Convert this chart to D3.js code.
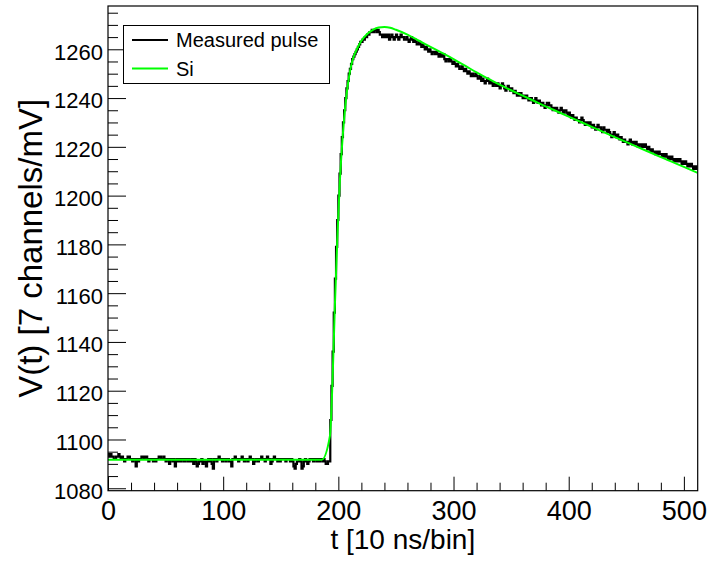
<!DOCTYPE html>
<html><head><meta charset="utf-8">
<script src="https://cdn.jsdelivr.net/npm/d3@7"></script>
<style>
body{margin:0;background:#fff}
svg{display:block}
text{font-family:"Liberation Sans",Arial,Helvetica,sans-serif;fill:#000}
</style>
</head><body>
<svg id="chart" width="709" height="562"></svg>
<script>
// Measured pulse: one value per 10 ns bin (bins 0..511)
const baselineBins = [
1094,1093,1094,1093,1093,1092,1092,1093,1093,1094,1093,1092,1093,1092,1091,1092,
1092,1093,1093,1092,1092,1091,1092,1092,1089,1092,1091,1092,1092,1093,1093,1092,
1093,1093,1092,1091,1092,1092,1092,1091,1092,1091,1092,1092,1093,1093,1092,1092,
1093,1092,1091,1092,1092,1090,1092,1092,1091,1092,1089,1091,1092,1091,1092,1091,
1092,1092,1091,1092,1092,1091,1092,1091,1091,1092,1090,1092,1091,1089,1090,1091,
1091,1092,1090,1091,1091,1089,1091,1092,1091,1092,1090,1088,1092,1092,1091,1092,
1093,1092,1092,1091,1092,1092,1091,1092,1092,1091,1091,1089,1092,1092,1093,1092,
1092,1091,1092,1092,1093,1092,1091,1092,1092,1091,1092,1093,1092,1092,1090,1091,
1092,1092,1091,1092,1092,1093,1092,1092,1091,1092,1093,1092,1092,1090,1091,1092,
1093,1092,1092,1091,1092,1091,1092,1092,1092,1092,1091,1092,1092,1092,1091,1092,
1091,1089,1088,1090,1091,1091,1092,1091,1088,1089,1091,1092,1091,1090,1091,1092,
1092,1092,1091,1092,1092,1091,1092,1091,1092,1092,1091,1092,1091,1090,1090,1091
];
const riseBins = [
1091,1108,1122,1136,1152,1166,1179,1190,1200,1209,1217,1224,1230,1235,1240,1244,
1247,1250,1252,1254,1256,1257,1258,1259,1260,1261,1262,1263,1263,1264,1264,1265,
1265,1266,1266,1267,1267,1268,1267,1268,1268,1267,1268,1267,1266,1266,1265,1266
];
const decayBins = [
1265,1266,1265,1266,1264,1265,1266,1265,1264,1265,1266,1265,1264,1265,1266,1265,
1265,1264,1264,1265,1264,1263,1264,1265,1264,1263,1264,1263,1262,1262,1263,1262,
1261,1262,1261,1260,1261,1260,1259,1260,1259,1258,1259,1259,1258,1259,1258,1257,
1258,1257,1257,1258,1256,1255,1256,1256,1255,1256,1255,1254,1255,1254,1253,1254,
1253,1252,1252,1253,1252,1251,1252,1251,1250,1251,1250,1249,1250,1249,1249,1250,
1249,1248,1248,1249,1247,1248,1247,1246,1247,1248,1247,1246,1247,1246,1245,1246,
1246,1245,1246,1245,1244,1245,1246,1245,1244,1243,1244,1245,1244,1243,1244,1243,
1242,1243,1242,1241,1242,1241,1242,1241,1240,1241,1240,1241,1240,1239,1240,1240,
1239,1238,1239,1240,1239,1238,1239,1238,1237,1238,1237,1236,1237,1238,1238,1237,
1237,1236,1235,1236,1235,1236,1235,1234,1235,1236,1235,1234,1235,1235,1234,1233,
1234,1233,1232,1233,1232,1231,1232,1231,1231,1230,1231,1232,1231,1230,1229,1230,
1230,1229,1230,1229,1228,1229,1228,1227,1228,1229,1228,1228,1227,1226,1228,1227,
1227,1226,1227,1226,1225,1224,1225,1226,1225,1224,1225,1224,1223,1224,1223,1222,
1223,1222,1222,1221,1222,1223,1222,1221,1222,1221,1222,1221,1220,1221,1221,1220,
1221,1220,1221,1220,1219,1220,1219,1218,1219,1218,1218,1217,1218,1217,1218,1217,
1217,1216,1217,1216,1217,1216,1215,1216,1215,1216,1215,1214,1215,1214,1215,1214,
1215,1214,1213,1214,1213,1214,1213,1212,1213,1212,1213,1212,1211,1212,1211,1212
];
const measuredPulse = baselineBins.concat(riseBins, decayBins);

const fitT = [0,185.5,192.7,195,197,199,201,203,205,207,209,211,213,216,220,225,230,235,240,245,250,260,270,280,290,300,310,320,330,340,350,360,370,380,390,400,420,440,460,480,500,512];
const fitV = [1091.7,1091.7,1101.5,1125,1155,1181,1203,1219,1231.5,1241,1248,1253,1256.5,1260,1263.5,1266.3,1268,1268.9,1269.1,1268.8,1268,1266,1263.5,1261,1258.5,1256,1253.3,1250.5,1248,1245.5,1243.2,1241,1238.8,1236.6,1234.5,1232.4,1228.2,1224,1219.9,1215.8,1211.8,1209.3];

const xMajorTicks = [0,100,200,300,400,500];
const xMinorTicks = d3.range(20, 512, 20).filter(v => v % 100 !== 0);
const yMajorTicks = [1080,1100,1120,1140,1160,1180,1200,1220,1240,1260];
const yMinorTicks = d3.range(1080, 1278, 5).filter(v => v % 20 !== 0);
const legendLabels = ["Measured pulse", "Si"];
const seriesColors = ["#000000", "#00ff00"];
const xTitle = "t [10 ns/bin]";
const yTitle = "V(t) [7 channels/mV]";

const svg = d3.select("#chart");
const pLeft = 108, pRight = 697.7, pTop = 6, pBottom = 490.7;
const x = d3.scaleLinear().domain([0, 512]).range([pLeft, pRight]);
const y = d3.scaleLinear().domain([1079, 1277.75]).range([pBottom, pTop]);

svg.append("rect").attr("width", 709).attr("height", 562).attr("fill", "#fff");

svg.append("clipPath").attr("id", "clip").append("rect")
  .attr("x", pLeft).attr("y", pTop).attr("width", pRight - pLeft).attr("height", pBottom - pTop);

const plot = svg.append("g").attr("clip-path", "url(#clip)");

// histogram as steps
const histPts = measuredPulse.map((v, i) => [i, v]);
histPts.push([measuredPulse.length, measuredPulse[measuredPulse.length - 1]]);
plot.append("path")
  .attr("d", d3.line().x(d => x(d[0])).y(d => y(d[1])).curve(d3.curveStepAfter)(histPts))
  .attr("fill", "none").attr("stroke", seriesColors[0]).attr("stroke-width", 2.2);

// fit curve
plot.append("path")
  .attr("d", d3.line().x((d, i) => x(fitT[i])).y(d => y(d)).curve(d3.curveMonotoneX)(fitV))
  .attr("fill", "none").attr("stroke", seriesColors[1]).attr("stroke-width", 2);

// axes (ROOT style: ticks inward)
const yAxis = svg.append("g").attr("transform", `translate(${pLeft},0)`)
  .call(d3.axisLeft(y).tickValues(yMajorTicks).tickSize(-18).tickPadding(5).tickFormat(d3.format("d")));
yAxis.select(".domain").remove();
yAxis.selectAll("text").attr("font-size", 22).attr("dy", "0.45em").attr("font-family", null);
const yMinor = svg.append("g").attr("transform", `translate(${pLeft},0)`)
  .call(d3.axisLeft(y).tickValues(yMinorTicks).tickSize(-10).tickFormat(""));
yMinor.select(".domain").remove();

const xAxis = svg.append("g").attr("transform", `translate(0,${pBottom})`)
  .call(d3.axisBottom(x).tickValues(xMajorTicks).tickSize(-14).tickPadding(10).tickFormat(d3.format("d")));
xAxis.select(".domain").remove();
xAxis.selectAll("text").attr("font-size", 27).attr("font-family", null);
const xMinor = svg.append("g").attr("transform", `translate(0,${pBottom})`)
  .call(d3.axisBottom(x).tickValues(xMinorTicks).tickSize(-8).tickFormat(""));
xMinor.select(".domain").remove();
svg.selectAll(".tick line").attr("stroke", "#000").attr("stroke-width", 1);

// frame
svg.append("rect").attr("x", pLeft).attr("y", pTop).attr("width", pRight - pLeft).attr("height", pBottom - pTop)
  .attr("fill", "none").attr("stroke", "#000").attr("stroke-width", 1.2);

// axis titles
svg.append("text").attr("x", (pLeft + pRight) / 2).attr("y", 549).attr("text-anchor", "middle")
  .attr("font-size", 28).text(xTitle);
svg.append("text").attr("transform", `translate(42,${(pTop + pBottom) / 2}) rotate(-90)`)
  .attr("text-anchor", "middle").attr("font-size", 33).text(yTitle);

// legend
const lg = svg.append("g");
lg.append("rect").attr("x", 123.5).attr("y", 25.5).attr("width", 206).attr("height", 58)
  .attr("fill", "#fff").attr("stroke", "#000").attr("stroke-width", 1);
legendLabels.forEach((lab, i) => {
  const cy = 40 + i * 28.5;
  lg.append("line").attr("x1", 132).attr("x2", 168).attr("y1", cy).attr("y2", cy)
    .attr("stroke", seriesColors[i]).attr("stroke-width", 2);
  lg.append("text").attr("x", 176).attr("y", cy).attr("dy", "0.36em").attr("font-size", 20).text(lab);
});
</script>
</body></html>
